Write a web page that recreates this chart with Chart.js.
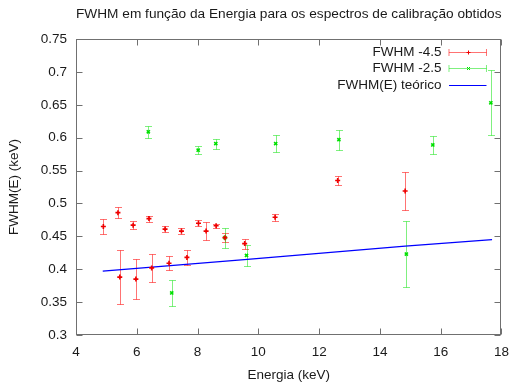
<!DOCTYPE html>
<html>
<head>
<meta charset="utf-8">
<script src="https://cdn.jsdelivr.net/npm/chart.js@4.4.1/dist/chart.umd.min.js"></script>
<style>
  body { margin: 0; background: #fff; }
</style>
</head>
<body>
<canvas id="fwhmChart" width="518" height="383"></canvas>
<script>
// FWHM -4.5
var redE    = [4.90, 5.38, 5.44, 5.88, 5.97, 6.40, 6.49, 6.93, 7.06, 7.47, 7.65, 8.03, 8.28, 8.61, 8.90, 9.55, 10.55, 12.61, 14.83];
var redFwhm = [0.465, 0.486, 0.388, 0.467, 0.385, 0.477, 0.402, 0.461, 0.409, 0.458, 0.418, 0.470, 0.458, 0.466, 0.448, 0.439, 0.479, 0.535, 0.519];
var redErr  = [0.012, 0.0083, 0.041, 0.0058, 0.030, 0.0046, 0.0217, 0.0046, 0.0106, 0.0043, 0.0117, 0.0043, 0.0137, 0.0035, 0.0071, 0.0076, 0.005, 0.0068, 0.0285];

// FWHM -2.5
var greenE    = [6.38, 7.15, 8.02, 8.60, 8.90, 9.61, 10.57, 12.65, 14.87, 15.74, 17.65];
var greenFwhm = [0.609, 0.364, 0.581, 0.591, 0.448, 0.421, 0.591, 0.597, 0.423, 0.589, 0.653];
var greenErr  = [0.0088, 0.0197, 0.0061, 0.0076, 0.0152, 0.0164, 0.0126, 0.0152, 0.0506, 0.0132, 0.0496];

// FWHM(E) teórico
var teoE    = [4.88, 9.64, 14.83, 17.69];
var teoFwhm = [0.397, 0.415, 0.435, 0.445];

var xTicks = [4, 6, 8, 10, 12, 14, 16, 18];
var yTicks = [0.3, 0.35, 0.4, 0.45, 0.5, 0.55, 0.6, 0.65, 0.7, 0.75];

function pts(xs, ys) {
    return xs.map(function (x, i) { return { x: x, y: ys[i] }; });
}

var TICK_LEN = 6;
var CAP = 3.5;
var FONT = "13.5px 'Liberation Sans', Arial, sans-serif";

// border box, inward mirrored ticks and the error bars
var frame = {
    id: 'frame',
    beforeDatasetsDraw: function (chart) {
        var c = chart.ctx, a = chart.chartArea;
        var sx = chart.scales.x, sy = chart.scales.y;
        var L = Math.round(a.left) + 0.5, R = Math.round(a.right) - 0.5;
        var T = Math.round(a.top) + 0.5, B = Math.round(a.bottom) - 0.5;
        c.save();
        c.strokeStyle = '#707070';
        c.lineWidth = 1;
        c.strokeRect(L, T, R - L, B - T);
        c.beginPath();
        xTicks.forEach(function (v) {
            var px = Math.round(sx.getPixelForValue(v)) + 0.5;
            c.moveTo(px, B); c.lineTo(px, B - TICK_LEN);
            c.moveTo(px, T); c.lineTo(px, T + TICK_LEN);
        });
        yTicks.forEach(function (v) {
            var py = Math.round(sy.getPixelForValue(v)) + 0.5;
            c.moveTo(L, py); c.lineTo(L + TICK_LEN, py);
            c.moveTo(R, py); c.lineTo(R - TICK_LEN, py);
        });
        c.stroke();

        chart.data.datasets.forEach(function (ds) {
            if (!ds.err) return;
            c.strokeStyle = ds.barColor;
            c.beginPath();
            ds.data.forEach(function (p, i) {
                var px = Math.round(sx.getPixelForValue(p.x)) + 0.5;
                var top = Math.round(sy.getPixelForValue(p.y + ds.err[i])) + 0.5;
                var bot = Math.round(sy.getPixelForValue(p.y - ds.err[i])) + 0.5;
                c.moveTo(px, top); c.lineTo(px, bot);
                c.moveTo(px - CAP, top); c.lineTo(px + CAP, top);
                c.moveTo(px - CAP, bot); c.lineTo(px + CAP, bot);
            });
            c.stroke();
        });
        c.restore();
    }
};

// key in the upper right corner, text first then the sample
var key = {
    id: 'key',
    afterDraw: function (chart) {
        var c = chart.ctx, a = chart.chartArea;
        var textRight = a.right - 60;
        var x0 = a.right - 52.5, x1 = a.right - 15;
        c.save();
        c.font = FONT;
        c.textAlign = 'right';
        c.textBaseline = 'middle';
        chart.data.datasets.forEach(function (ds, i) {
            var y = Math.round(a.top + 12.5 + i * 16.8) + 0.5;
            c.fillStyle = '#1a1a1a';
            c.fillText(ds.label, textRight, y);
            c.beginPath();
            if (ds.err) {
                c.strokeStyle = ds.barColor;
                c.moveTo(x0, y); c.lineTo(x1, y);
                c.moveTo(x0, y - CAP); c.lineTo(x0, y + CAP);
                c.moveTo(x1, y - CAP); c.lineTo(x1, y + CAP);
                c.stroke();
                var m = Math.round((x0 + x1) / 2) + 0.5;
                c.strokeStyle = ds.borderColor;
                c.beginPath();
                if (ds.pointStyle === 'cross') {
                    c.moveTo(m - 2, y); c.lineTo(m + 2, y);
                    c.moveTo(m, y - 2); c.lineTo(m, y + 2);
                } else {
                    c.moveTo(m - 1.5, y - 1.5); c.lineTo(m + 1.5, y + 1.5);
                    c.moveTo(m - 1.5, y + 1.5); c.lineTo(m + 1.5, y - 1.5);
                }
                c.stroke();
            } else {
                c.strokeStyle = ds.borderColor;
                c.moveTo(x0, y); c.lineTo(x1, y);
                c.stroke();
            }
        });
        c.restore();
    }
};

Chart.defaults.font.family = "'Liberation Sans', Arial, sans-serif";
Chart.defaults.font.size = 13.5;
Chart.defaults.color = '#1a1a1a';

var ctx = document.getElementById('fwhmChart').getContext('2d');
var fwhmChart = new Chart(ctx, {
    type: 'scatter',
    data: {
        datasets: [{
            label: 'FWHM -4.5',
            data: pts(redE, redFwhm),
            err: redErr,
            barColor: 'rgba(255,0,0,0.55)',
            borderColor: '#ee0000',
            pointStyle: 'cross',
            pointRadius: 2.5,
            borderWidth: 1.6
        }, {
            label: 'FWHM -2.5',
            data: pts(greenE, greenFwhm),
            err: greenErr,
            barColor: 'rgba(0,225,0,0.5)',
            borderColor: '#00e000',
            pointStyle: 'crossRot',
            pointRadius: 2.2,
            borderWidth: 1.6
        }, {
            label: 'FWHM(E) teórico',
            data: pts(teoE, teoFwhm),
            showLine: true,
            borderColor: '#0000ff',
            borderWidth: 1.2,
            pointRadius: 0
        }]
    },
    options: {
        responsive: false,
        animation: false,
        layout: { padding: { left: 0, right: 10.5, top: 0, bottom: 0 } },
        plugins: {
            legend: { display: false },
            tooltip: { enabled: false },
            title: {
                display: true,
                fullSize: false,
                text: 'FWHM em função da Energia para os espectros de calibração obtidos',
                font: { size: 13.7, weight: 'normal' },
                padding: { top: 6, bottom: 16.6 },
                color: '#1a1a1a'
            }
        },
        scales: {
            x: {
                type: 'linear',
                min: 4,
                max: 18,
                grid: { display: false, drawTicks: false },
                border: { display: false },
                ticks: { stepSize: 2, padding: 9 },
                title: { display: true, text: 'Energia (keV)', padding: { top: 0, bottom: 0 } },
                afterFit: function (s) { s.height = 48; }
            },
            y: {
                min: 0.3,
                max: 0.75,
                grid: { display: false, drawTicks: false },
                border: { display: false },
                ticks: {
                    stepSize: 0.05,
                    padding: 9,
                    callback: function (v) { return String(+v.toFixed(2)); }
                },
                title: { display: true, text: 'FWHM(E) (keV)', padding: { top: 6, bottom: 0 } },
                afterFit: function (s) { s.width = 76; }
            }
        }
    },
    plugins: [frame, key]
});
</script>
</body>
</html>
